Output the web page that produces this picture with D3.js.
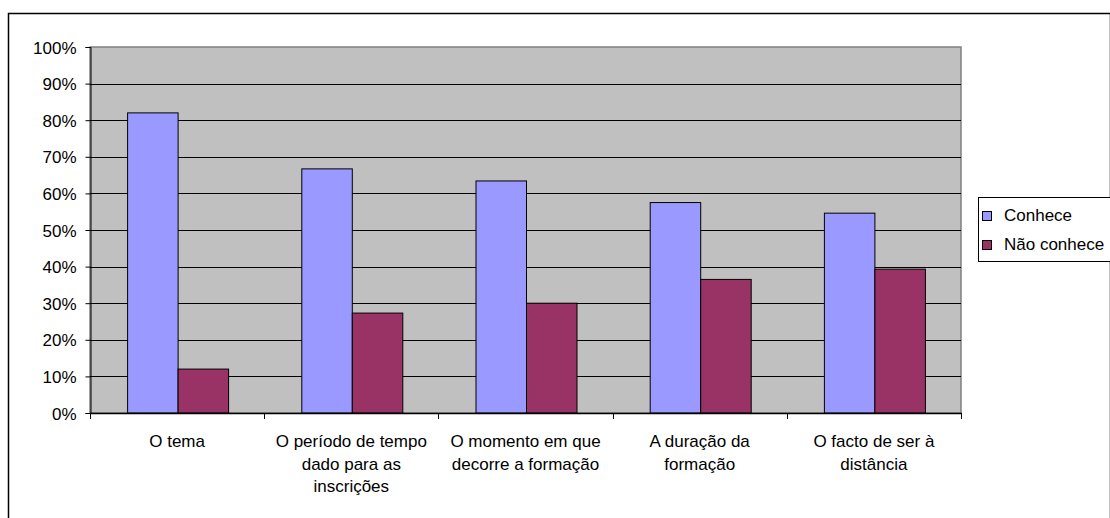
<!DOCTYPE html>
<html><head><meta charset="utf-8">
<script src="https://cdn.jsdelivr.net/npm/d3@7"></script>
<style>body{margin:0;background:#fff;overflow:hidden}svg{display:block}text{font-family:"Liberation Sans",Arial,sans-serif;fill:#000}</style>
</head><body><svg id="c" width="1110" height="518"></svg>
<script>
const categories = [["O tema"],["O período de tempo","dado para as","inscrições"],["O momento em que","decorre a formação"],["A duração da","formação"],["O facto de ser à","distância"]];
const seriesNames = ["Conhece","Não conhece"];
const conhece = [0.82,0.667,0.634,0.575,0.546];
const naoConhece = [0.12,0.273,0.30,0.365,0.393];
const yTicks = [0,0.1,0.2,0.3,0.4,0.5,0.6,0.7,0.8,0.9,1.0];
const colors = ["#9999ff","#993366"];
const FS = 17;

const svg = d3.select("#c");
svg.append("rect").attr("x",8.5).attr("y",13.5).attr("width",1102).attr("height",510).attr("fill","#fff").attr("stroke","#000").attr("stroke-width",1.5);
const L=90,R=961,T=47,B=413;
const x = d3.scaleBand().domain(d3.range(categories.length)).range([L,R]).paddingInner(0).paddingOuter(0);
const y = d3.scaleLinear().domain([0,1]).range([B,T]);
svg.append("rect").attr("x",L).attr("y",T).attr("width",R-L).attr("height",B-T).attr("fill","#c0c0c0").attr("stroke","#808080").attr("stroke-width",1.5);
// grid
svg.append("g").selectAll("line").data(yTicks.slice(1,-1)).join("line")
 .attr("x1",L).attr("x2",R).attr("y1",d=>Math.round(y(d))+0.5).attr("y2",d=>Math.round(y(d))+0.5).attr("stroke","#000");
const sub = d3.scaleBand().domain([0,1]).range([0,101]);
const data = [conhece,naoConhece];
const g = svg.append("g");
data.forEach((s,si)=>{
  g.selectAll(null).data(s).join("rect")
   .attr("x",(d,i)=>x(i)+x.bandwidth()/2-49.5+sub(si)).attr("width",sub.bandwidth())
   .attr("y",d=>y(d)).attr("height",d=>B-y(d))
   .attr("fill",colors[si]).attr("stroke","#000").attr("stroke-width",1);
});
// y axis
const ya = svg.append("g").attr("transform",`translate(${L+0.5},0)`).call(d3.axisLeft(y).tickValues(yTicks).tickFormat(d3.format(".0%")).tickSize(5).tickPadding(9));
ya.select(".domain").attr("stroke","#000");
ya.selectAll("text").attr("font-size",FS).attr("font-family","Liberation Sans, Arial, sans-serif").attr("dy","0.36em");
ya.attr("font-size",FS);
// x axis
svg.append("line").attr("x1",L).attr("x2",R+1).attr("y1",B+0.5).attr("y2",B+0.5).attr("stroke","#000").attr("stroke-width",1.5);
svg.append("g").selectAll("line").data(d3.range(categories.length+1)).join("line")
 .attr("x1",i=>Math.round(L+i*x.bandwidth())+0.5).attr("x2",i=>Math.round(L+i*x.bandwidth())+0.5)
 .attr("y1",B).attr("y2",B+6).attr("stroke","#000");
const lab = svg.append("g");
categories.forEach((lines,i)=>{
  const cx = x(i)+x.bandwidth()/2;
  const t = lab.append("text").attr("x",cx).attr("y",447).attr("text-anchor","middle").attr("font-size",FS);
  lines.forEach((ln,j)=>t.append("tspan").attr("x",cx).attr("dy",j?22.5:0).text(ln));
});
// legend
const lg = svg.append("g");
lg.append("rect").attr("x",978.5).attr("y",197.5).attr("width",150).attr("height",64).attr("fill","#fff").attr("stroke","#000");
seriesNames.forEach((n,i)=>{
  lg.append("rect").attr("x",982.5).attr("y",211.5+i*29).attr("width",9).attr("height",9).attr("fill",colors[i]).attr("stroke","#000");
  lg.append("text").attr("x",1004).attr("y",221+i*29).attr("font-size",FS).text(n);
});
</script></body></html>
